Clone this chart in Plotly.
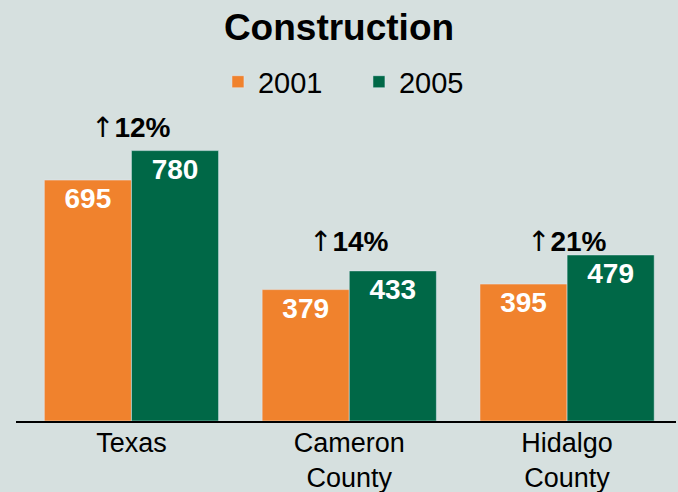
import plotly.graph_objects as go

categories = ["Texas", "Cameron<br>County", "Hidalgo<br>County"]
values_2001 = [695, 379, 395]
values_2005 = [780, 433, 479]
growth_labels = ["12%", "14%", "21%"]

orange = "#F0822D"
green = "#006847"
bg = "#D6E0DF"
font_name = "Liberation Sans"

fig = go.Figure()
for name, vals, col in [("2001", values_2001, orange), ("2005", values_2005, green)]:
    fig.add_trace(go.Bar(
        name=name, x=categories, y=vals, marker_color=col,
        text=vals, textposition="inside", insidetextanchor="end",
        textfont=dict(color="white", size=28, family=font_name),
        texttemplate="<b>%{text}</b>",
    ))

# growth callouts above each group
shifts = [5, 11, -5]
for cat, a, b, lab, s in zip(categories, values_2001, values_2005, growth_labels, shifts):
    fig.add_annotation(
        x=cat, y=max(a, b), yanchor="bottom", yshift=s, showarrow=False,
        text="<span style='font-family:DejaVu Sans'>↑</span><b>" + lab + "</b>",
        font=dict(size=28, color="black", family=font_name),
    )

fig.update_layout(
    width=678, height=492,
    paper_bgcolor=bg, plot_bgcolor=bg,
    margin=dict(l=16, r=2, t=109, b=71),
    barmode="group", bargap=0.2, bargroupgap=0,
    font=dict(family=font_name, color="black", size=28),
    title=dict(text="<b>Construction</b>", x=0.5, xanchor="center",
               y=0.945, yanchor="middle", font=dict(size=37)),
    legend=dict(orientation="h", x=0.306, xanchor="left", y=1.087,
                yanchor="middle", font=dict(size=29), itemwidth=30,
                entrywidth=96, bgcolor="rgba(0,0,0,0)"),
    showlegend=True,
)
fig.update_xaxes(range=[-0.53, 2.5], showline=True, linecolor="black",
                 linewidth=1.5, ticks="", tickfont=dict(size=27), automargin=False,
                 ticklabelstandoff=-3)
fig.update_yaxes(range=[0, 900], visible=False, showgrid=False, automargin=False)

fig.write_html("out.html", config={"displayModeBar": False},
               post_script="document.body.style.margin='0';")
